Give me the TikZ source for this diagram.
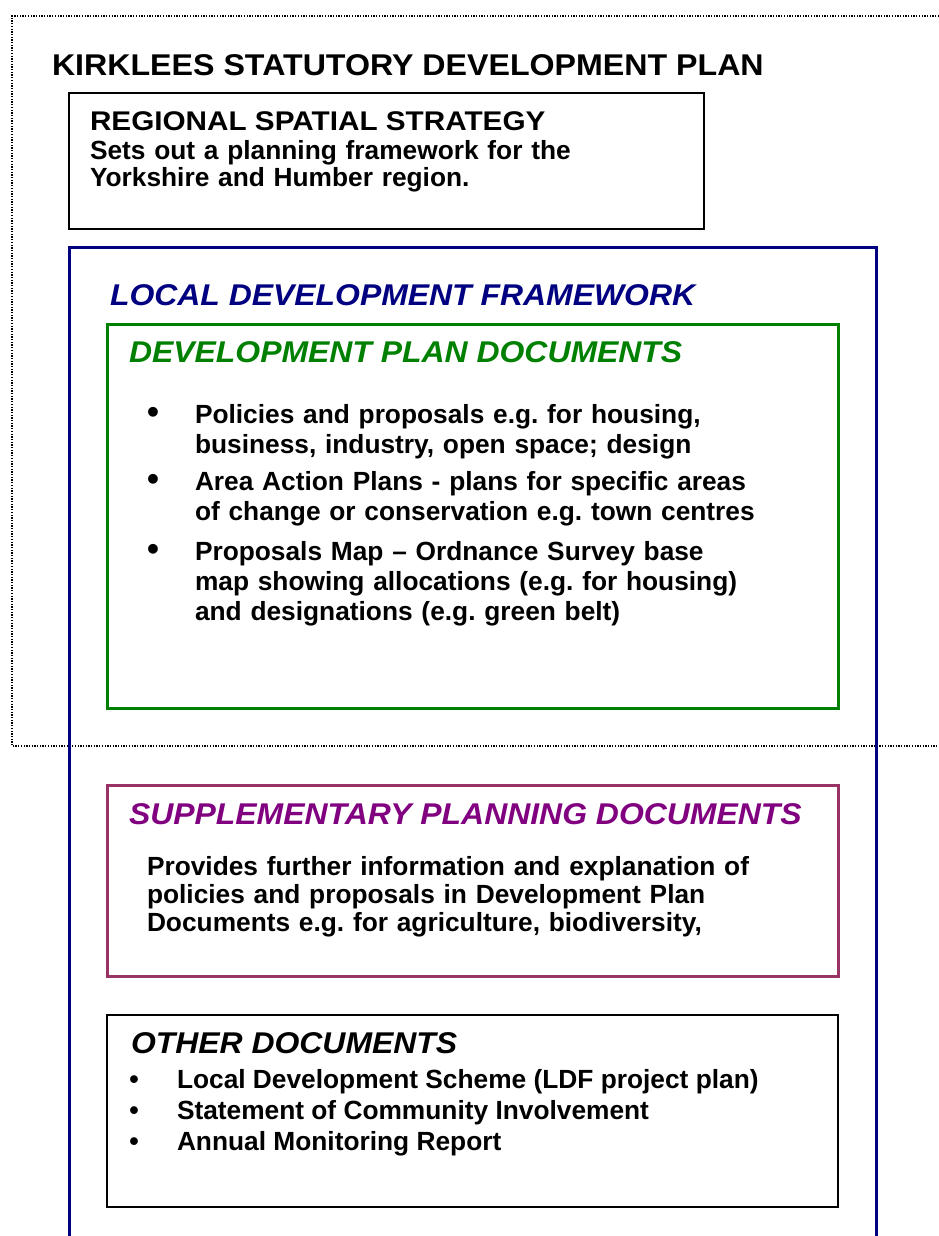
\documentclass[tikz,border=0pt]{standalone}
\usepackage{fontspec}
\usepackage{graphicx}
\setmainfont{Liberation Sans}
\frenchspacing
\definecolor{lnavy}{RGB}{0,0,128}
\definecolor{lgreen}{RGB}{0,128,0}
\definecolor{lpurple}{RGB}{128,0,128}
\definecolor{lplum}{RGB}{153,51,102}
\newcommand{\wide}[2]{\scalebox{#1}[1]{#2}}
\tikzset{
  txt/.style={anchor=base west, inner sep=0pt, outer sep=0pt, align=left, font=\bfseries\frenchspacing\fontsize{26.3}{28}\selectfont},
  bigtxt/.style={anchor=base west, inner sep=0pt, outer sep=0pt, font=\bfseries\fontsize{30}{34}\selectfont},
  headit/.style={anchor=base west, inner sep=0pt, outer sep=0pt, font=\bfseries\itshape\fontsize{30}{34}\selectfont},
  bul/.style={anchor=base, inner sep=0pt, outer sep=0pt, font=\bfseries\fontsize{34}{34}\selectfont},
  smallbul/.style={anchor=base, inner sep=0pt, outer sep=0pt, font=\bfseries\fontsize{27}{28}\selectfont},
  dpdtxt/.style={txt, text width=620pt, font=\bfseries\frenchspacing\fontsize{26.3}{30}\selectfont},
  thinbox/.style={draw=black, line width=1.5pt},
  thickbox/.style={line width=3pt},
  dotline/.style={draw=black, line width=1.3pt, dash pattern=on 1.3pt off 1.4pt}
}
\begin{document}
\begin{tikzpicture}[x=1pt,y=-1pt]
\useasboundingbox (0,0) rectangle (939,1236);
% dotted statutory plan outline
\coordinate (d1) at (939,16);
\coordinate (d2) at (12,16);
\coordinate (d3) at (12,746);
\coordinate (d4) at (939,746);
\draw[dotline] (d1) -- (d2) -- (d3) -- (d4);
\node[bigtxt] (title) at (52,76) {\wide{1.072}{KIRKLEES STATUTORY DEVELOPMENT PLAN}};
% regional spatial strategy
\draw[thinbox] (69,93) rectangle (704,229);
\node[txt, font=\bfseries\fontsize{27}{28}\selectfont] (rss) at (90,131) {\wide{1.10}{REGIONAL SPATIAL STRATEGY}};
\node[txt, text width=600pt] (rsstext) at (90,159) {Sets out a planning framework for the\\Yorkshire and Humber region.};
% LDF
\draw[thickbox, draw=lnavy] (69,1240) -- (69,247) -- (876,247) -- (876,1240);
\node[headit, text=lnavy] (ldf) at (110,305) {\wide{1.064}{LOCAL DEVELOPMENT FRAMEWORK}};
% DPD
\draw[thickbox, draw=lgreen] (107,324) rectangle (838,708);
\node[headit, text=lgreen] (dpd) at (129,362) {\wide{1.064}{DEVELOPMENT PLAN DOCUMENTS}};
\node[bul] (b1) at (153,423) {•};
\node[dpdtxt] (i1) at (195,423) {Policies and proposals e.g. for housing,\\business, industry, open space; design};
\node[bul] (b2) at (153,490) {•};
\node[dpdtxt] (i2) at (195,490) {Area Action Plans - plans for specific areas\\of change or conservation e.g. town centres};
\node[bul] (b3) at (153,560) {•};
\node[dpdtxt] (i3) at (195,560) {Proposals Map – Ordnance Survey base\\map showing allocations (e.g. for housing)\\and designations (e.g. green belt)};
% SPD
\draw[thickbox, draw=lplum] (107,785) rectangle (838,976);
\node[headit, text=lpurple] (spd) at (129,824) {\wide{1.064}{SUPPLEMENTARY PLANNING DOCUMENTS}};
\node[txt, text width=680pt] (spdtext) at (147,875) {Provides further information and explanation of\\policies and proposals in Development Plan\\Documents e.g. for agriculture, biodiversity,};
% Other documents
\draw[thinbox] (107,1015) rectangle (838,1207);
\node[headit] (other) at (131,1053) {\wide{1.064}{OTHER DOCUMENTS}};
\node[smallbul] (o1b) at (134,1088) {•};
\node[txt] (o1) at (177,1088) {Local Development Scheme (LDF project plan)};
\node[smallbul] (o2b) at (134,1119) {•};
\node[txt] (o2) at (177,1119) {Statement of Community Involvement};
\node[smallbul] (o3b) at (134,1150) {•};
\node[txt] (o3) at (177,1150) {Annual Monitoring Report};
\end{tikzpicture}
\end{document}
